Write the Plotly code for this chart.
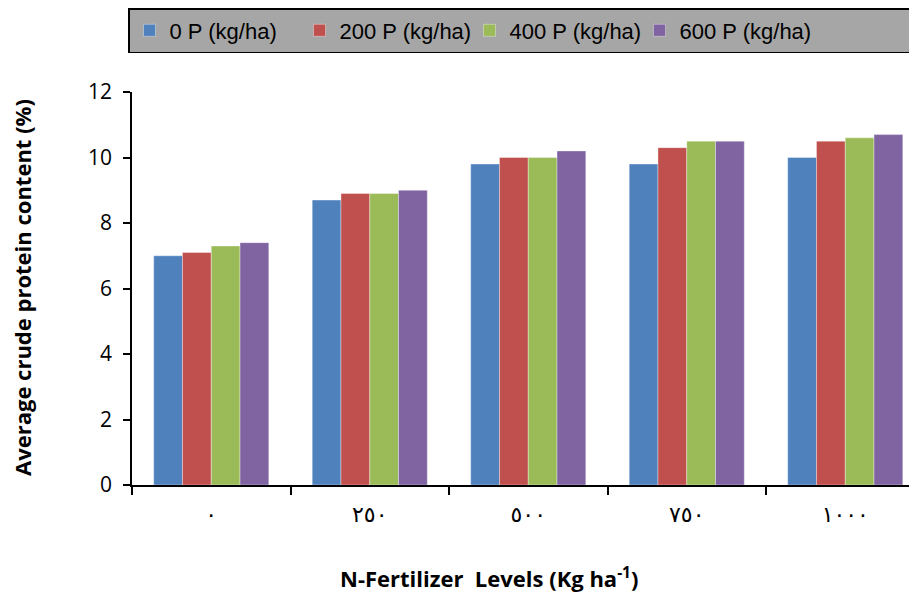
import plotly.graph_objects as go

categories = ["٠", "٢٥٠", "٥٠٠", "٧٥٠", "١٠٠٠"]
series_names = ["0 P (kg/ha)", "200 P (kg/ha)", "400 P (kg/ha)", "600 P (kg/ha)"]
p0 = [7.0, 8.7, 9.8, 9.8, 10.0]
p200 = [7.1, 8.9, 10.0, 10.3, 10.5]
p400 = [7.3, 8.9, 10.0, 10.5, 10.6]
p600 = [7.4, 9.0, 10.2, 10.5, 10.7]
y_ticks = [0, 2, 4, 6, 8, 10, 12]

colors = ["#4F81BD", "#C0504D", "#9BBB59", "#8064A2"]
series = [p0, p200, p400, p600]
legend_widths = [125, 125, 125, 245]

fig = go.Figure()
for name, vals, col, lw in zip(series_names, series, colors, legend_widths):
    fig.add_trace(go.Bar(
        name=name, x=categories, y=vals, legendwidth=lw,
        marker=dict(color=col, line=dict(color="rgba(255,255,255,0.45)", width=0.8)),
    ))

# page body has an 8px margin, so figure coords = reference coords - 8
OFF = 8
W, H = 917 - OFF, 593 - OFF
L, R, T = 132 - OFF, 0, 92 - OFF
B = H - (485 - OFF)
pw = W - L - R
ph = H - T - B

def px_x(x):
    return (x - OFF - L) / pw

def px_y(y):
    return 1 - (y - OFF - T) / ph

TITLE_FONT = "Open Sans, Lato, sans-serif"

fig.update_layout(
    width=W, height=H,
    margin=dict(l=L, r=R, t=T, b=B, pad=0, autoexpand=False),
    paper_bgcolor="white", plot_bgcolor="white",
    barmode="group", bargap=0.274, bargroupgap=0,
    font=dict(family=TITLE_FONT, color="black"),
    showlegend=True,
    legend=dict(
        orientation="h",
        x=px_x(128), xanchor="left",
        y=px_y(8), yanchor="top",
        bgcolor="#A6A6A6", bordercolor="black", borderwidth=1.5,
        font=dict(family="Liberation Sans, Arial, sans-serif", size=22, color="black"),
        traceorder="normal",
        entrywidthmode="pixels",
    ),
    xaxis=dict(
        type="category",
        range=[-0.5, 4.5 - 7.5 / 158.5],
        showline=True, linecolor="black", linewidth=1.5,
        ticks="outside", tickson="boundaries", ticklen=8, tickwidth=1.5, tickcolor="black",
        tickfont=dict(family="DejaVu Sans, Noto Sans, sans-serif", size=22, color="black"),
        showgrid=False, zeroline=False,
        ticklabelstandoff=9,
    ),
    yaxis=dict(
        range=[0, 12], tickvals=y_ticks,
        showline=True, linecolor="black", linewidth=1.5,
        ticks="outside", ticklen=7, tickwidth=1.5, tickcolor="black",
        tickfont=dict(family=TITLE_FONT, size=21, color="black"),
        showgrid=False, zeroline=False,
        ticklabelstandoff=7,
    ),
)

fig.add_annotation(
    text="<b>Average crude protein content (%)</b>",
    xref="paper", yref="paper",
    x=px_x(22), y=px_y(288),
    xanchor="center", yanchor="middle", textangle=-90, showarrow=False,
    font=dict(family=TITLE_FONT, size=22, color="black"),
)

fig.add_annotation(
    text="<b>N-Fertilizer  Levels (Kg ha<sup>-1</sup>)</b>",
    xref="paper", yref="paper",
    x=px_x(489), y=px_y(577),
    xanchor="center", yanchor="middle", showarrow=False,
    font=dict(family=TITLE_FONT, size=22, color="black"),
)

fig.write_html("out.html")
